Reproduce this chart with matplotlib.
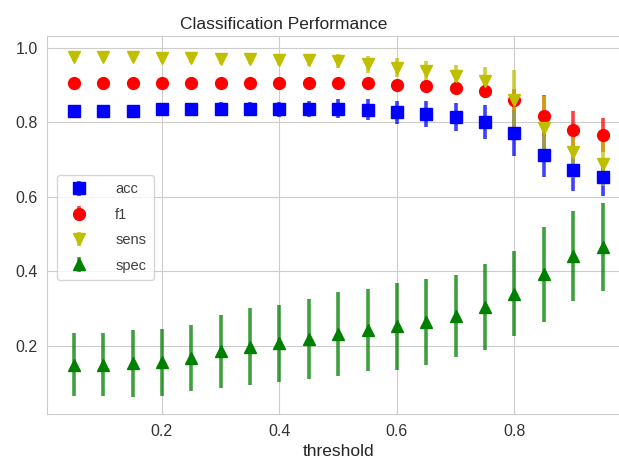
import numpy as np
import matplotlib
matplotlib.use('Agg')
import matplotlib.pyplot as plt
import seaborn as sns
from matplotlib.colors import to_rgba

threshold = [0.05, 0.10, 0.15, 0.20, 0.25, 0.30, 0.35, 0.40, 0.45, 0.50,
             0.55, 0.60, 0.65, 0.70, 0.75, 0.80, 0.85, 0.90, 0.95]

acc = [0.830, 0.830, 0.830, 0.834, 0.834, 0.835, 0.835, 0.835, 0.836, 0.836,
       0.833, 0.826, 0.822, 0.813, 0.800, 0.770, 0.713, 0.671, 0.653]
acc_err = [0.012, 0.012, 0.013, 0.015, 0.016, 0.018, 0.019, 0.020, 0.022, 0.026,
           0.028, 0.032, 0.034, 0.038, 0.046, 0.062, 0.060, 0.055, 0.050]

f1 = [0.905, 0.905, 0.905, 0.905, 0.905, 0.905, 0.905, 0.905, 0.905, 0.905,
      0.905, 0.900, 0.897, 0.892, 0.883, 0.860, 0.817, 0.779, 0.766]
f1_err = [0.005, 0.005, 0.005, 0.005, 0.005, 0.006, 0.006, 0.007, 0.007, 0.008,
          0.009, 0.010, 0.012, 0.014, 0.018, 0.030, 0.055, 0.050, 0.045]

sens = [0.975, 0.975, 0.974, 0.973, 0.972, 0.970, 0.969, 0.968, 0.966, 0.964,
        0.955, 0.946, 0.937, 0.923, 0.910, 0.860, 0.784, 0.720, 0.689]
sens_err = [0.010, 0.010, 0.011, 0.012, 0.012, 0.013, 0.014, 0.015, 0.016, 0.018,
            0.022, 0.025, 0.027, 0.030, 0.038, 0.080, 0.086, 0.070, 0.060]

spec = [0.149, 0.149, 0.153, 0.156, 0.167, 0.185, 0.198, 0.207, 0.218, 0.232,
        0.241, 0.252, 0.264, 0.279, 0.304, 0.340, 0.392, 0.441, 0.464]
spec_err = [0.085, 0.085, 0.090, 0.090, 0.088, 0.098, 0.103, 0.103, 0.108, 0.112,
            0.110, 0.116, 0.116, 0.110, 0.115, 0.115, 0.128, 0.121, 0.118]

sns.set_style('whitegrid')
plt.rcParams['font.family'] = ['Liberation Sans', 'DejaVu Sans']

fig = plt.figure(figsize=(6.19, 4.71), dpi=100)
ax = fig.add_axes([0.0765, 0.121, 0.9397, 0.8025])

series = [(acc, acc_err, 'b', 's', 'acc'),
          (f1, f1_err, 'r', 'o', 'f1'),
          (sens, sens_err, 'y', 'v', 'sens'),
          (spec, spec_err, 'g', '^', 'spec')]

for vals, err, col, mk, lab in series:
    ax.errorbar(threshold, vals, yerr=err, fmt=mk, color=col, ms=8.5,
                ecolor=to_rgba(col, 0.75), elinewidth=2.6, capsize=0,
                label=lab)

ax.set_xlim(0.005, 0.995)
# title sits left of the axes centre in the original
ax.set_title('Classification Performance', fontsize=12.5, x=0.407, pad=5)
ax.set_xlabel('threshold', fontsize=12.5)
ax.tick_params(labelsize=11.5, labelcolor='.2')
ax.legend(loc='upper left', bbox_to_anchor=(0.0165, 0.632), borderaxespad=0,
          fontsize=10.5, frameon=True, handletextpad=1.5, labelspacing=0.78,
          borderpad=0.5, labelcolor='.25')

fig.savefig('out.png', dpi=100)
